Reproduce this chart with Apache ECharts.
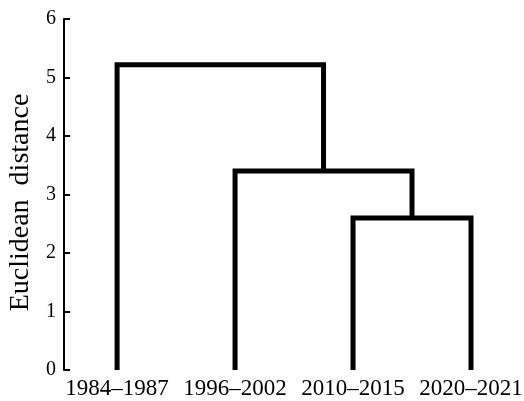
<!DOCTYPE html>
<html><head><meta charset="utf-8">
<script src="https://cdn.jsdelivr.net/npm/echarts@6/dist/echarts.min.js"></script>
<style>html,body{margin:0;padding:0;background:#fff}#c{width:524px;height:401px}</style>
</head><body><div id="c"></div>
<script>
const categories = ['1984–1987', '1996–2002', '2010–2015', '2020–2021'];
// merges: pairs of node indices (leaves 0..3, then merged nodes 4,5,6) and merge heights
const mergePairs = [[2, 3], [1, 4], [0, 5]];
const mergeHeights = [2.60, 3.40, 5.22];
const yTicks = [0, 1, 2, 3, 4, 5, 6];

const nodeX = categories.map((c, i) => i);
const nodeH = categories.map(() => 0);
const series = [];
mergePairs.forEach((p, k) => {
  const [a, b] = p;
  const h = mergeHeights[k];
  series.push({
    type: 'line', symbol: 'none', animation: false, silent: true,
    lineStyle: { color: '#000', width: 5, join: 'miter', cap: 'butt' },
    data: [[nodeX[a], nodeH[a]], [nodeX[a], h], [nodeX[b], h], [nodeX[b], nodeH[b]]]
  });
  nodeX.push((nodeX[a] + nodeX[b]) / 2);
  nodeH.push(h);
});

const font = '"Liberation Serif", "DejaVu Serif", serif';
const chart = echarts.init(document.getElementById('c'), null, { renderer: 'canvas' });
chart.setOption({
  animation: false,
  grid: { left: 64, right: 53, top: 19, bottom: 31, containLabel: false, outerBoundsMode: 'none' },
  xAxis: {
    type: 'value', min: -0.45, max: categories.length - 1,
    axisLine: { show: false }, axisTick: { show: false }, splitLine: { show: false },
    axisLabel: {
      customValues: categories.map((c, i) => i),
      formatter: v => categories[Math.round(v)],
      color: '#000', fontFamily: font, fontSize: 23, margin: 7,
      showMinLabel: true, showMaxLabel: true
    }
  },
  yAxis: {
    type: 'value', min: yTicks[0], max: yTicks[yTicks.length - 1], interval: 1,
    name: 'Euclidean  distance', nameLocation: 'middle', nameGap: 28,
    nameTextStyle: { color: '#000', fontFamily: font, fontSize: 28, padding: [0, 16, 0, 0] },
    axisLine: { show: true, onZero: false, lineStyle: { color: '#000', width: 2 } },
    axisTick: { show: true, inside: true, length: 6, lineStyle: { color: '#000', width: 2 } },
    splitLine: { show: false },
    axisLabel: { color: '#000', fontFamily: font, fontSize: 20, margin: 8 }
  },
  series: series
});
</script></body></html>
